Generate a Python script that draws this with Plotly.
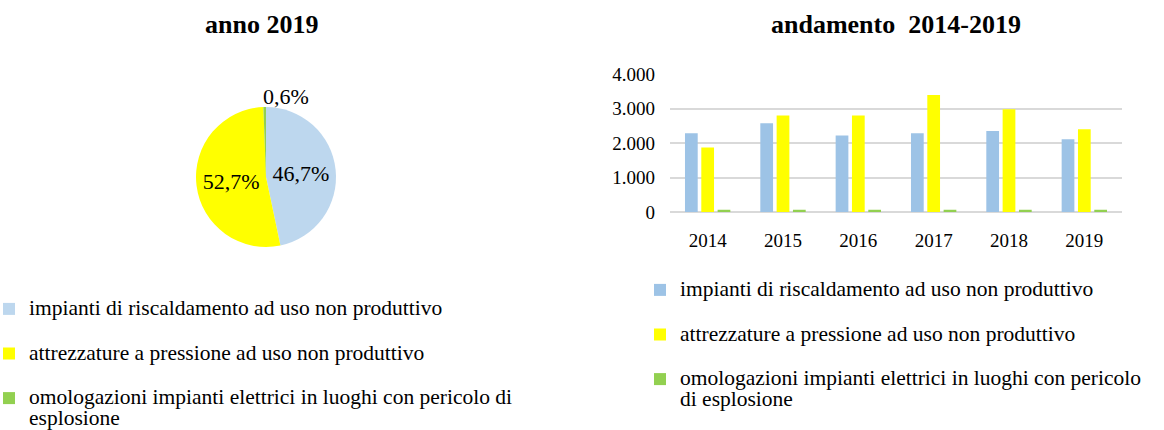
import plotly.graph_objects as go

years = ["2014", "2015", "2016", "2017", "2018", "2019"]
series_names = [
    "impianti di riscaldamento ad uso non produttivo",
    "attrezzature a pressione ad uso non produttivo",
    "omologazioni impianti elettrici in luoghi con pericolo di esplosione",
]
riscaldamento = [2280, 2570, 2220, 2280, 2350, 2110]
pressione = [1870, 2800, 2800, 3390, 2980, 2400]
omologazioni = [65, 65, 65, 65, 65, 65]

pie_values_2019 = [46.7, 52.7, 0.6]

# legend text lines (as wrapped in the reference)
pie_legend_lines = [
    ["impianti di riscaldamento ad uso non produttivo"],
    ["attrezzature a pressione ad uso non produttivo"],
    ["omologazioni impianti elettrici in luoghi con pericolo di", "esplosione"],
]
bar_legend_lines = [
    ["impianti di riscaldamento ad uso non produttivo"],
    ["attrezzature a pressione ad uso non produttivo"],
    ["omologazioni impianti elettrici in luoghi con pericolo", "di esplosione"],
]

pie_colors = ["#BDD7EE", "#FFFF00", "#92D050"]
bar_colors = ["#9DC3E6", "#FFFF00", "#92D050"]

FONT = "Liberation Serif, Times New Roman, serif"
W, H = 1164, 430
LEG_SIZE = 21.5


def legend_label(lines):
    parts = ["<span style='font-size:%spx'>%s</span>" % (LEG_SIZE, l) for l in lines]
    if len(parts) == 1:
        parts.append("\u00a0")
    return "<br>".join(parts)


pie_total = sum(pie_values_2019)
small_pct = pie_values_2019[2] / pie_total * 100

fig = go.Figure()

fig.add_trace(go.Pie(
    labels=[legend_label(l) for l in pie_legend_lines],
    values=pie_values_2019,
    sort=False,
    direction="clockwise",
    rotation=0,
    marker=dict(colors=pie_colors, line=dict(width=0)),
    texttemplate=["%{percent:.1%}", "%{percent:.1%}", ""],
    textposition="inside",
    insidetextorientation="horizontal",
    textfont=dict(family=FONT, size=22, color="#000000"),
    domain=dict(x=[196 / W, 336 / W], y=[(H - 247) / H, (H - 107) / H]),
    legend="legend",
    hoverinfo="percent",
))

for vals, lines, col in zip([riscaldamento, pressione, omologazioni], bar_legend_lines, bar_colors):
    fig.add_trace(go.Bar(
        x=years, y=vals, name=legend_label(lines), marker=dict(color=col, line=dict(width=0)),
        legend="legend2",
    ))

fig.update_layout(
    width=W, height=H,
    margin=dict(l=0, r=0, t=0, b=0, autoexpand=False),
    paper_bgcolor="white", plot_bgcolor="white",
    separators=",.",
    font=dict(family=FONT, size=19, color="#000000"),
    barmode="group",
    bargap=0.35,
    bargroupgap=0.22,
    xaxis=dict(
        domain=[670 / W, 1122 / W],
        showgrid=False, showline=False, zeroline=False,
        tickfont=dict(size=19), ticklabelstandoff=15,
    ),
    yaxis=dict(
        domain=[(H - 212) / H, (H - 74) / H],
        range=[0, 4000], tickvals=[0, 1000, 2000, 3000, 4000],
        tickformat=",d",
        showgrid=True, gridcolor="#D9D9D9", gridwidth=1.5,
        zeroline=True, zerolinecolor="#D9D9D9", zerolinewidth=1.5,
        showline=False,
        tickfont=dict(size=19), ticklabelstandoff=14,
    ),
    legend=dict(
        x=-11 / W, y=(H - 292) / H, xanchor="left", yanchor="top",
        font=dict(family=FONT, size=16), valign="top",
        bgcolor="rgba(0,0,0,0)", itemwidth=30, tracegroupgap=0,
    ),
    legend2=dict(
        x=640 / W, y=(H - 273) / H, xanchor="left", yanchor="top",
        font=dict(family=FONT, size=16), valign="top",
        bgcolor="rgba(0,0,0,0)", itemwidth=30, tracegroupgap=0,
    ),
    annotations=[
        dict(text="<b>anno 2019</b>", x=261 / W, y=(H - 24) / H, xref="paper", yref="paper",
             showarrow=False, font=dict(family=FONT, size=26), xanchor="center", yanchor="middle"),
        dict(text="<b>andamento  2014-2019</b>", x=896 / W, y=(H - 24) / H, xref="paper", yref="paper",
             showarrow=False, font=dict(family=FONT, size=26), xanchor="center", yanchor="middle"),
        dict(text=("%.1f%%" % small_pct).replace(".", ","), x=286 / W, y=(H - 96) / H,
             xref="paper", yref="paper", showarrow=False,
             font=dict(family=FONT, size=22), xanchor="center", yanchor="middle"),
    ],
)

fig.write_html("out.html", config={"displayModeBar": False},
               post_script="document.body.style.margin='0';")
